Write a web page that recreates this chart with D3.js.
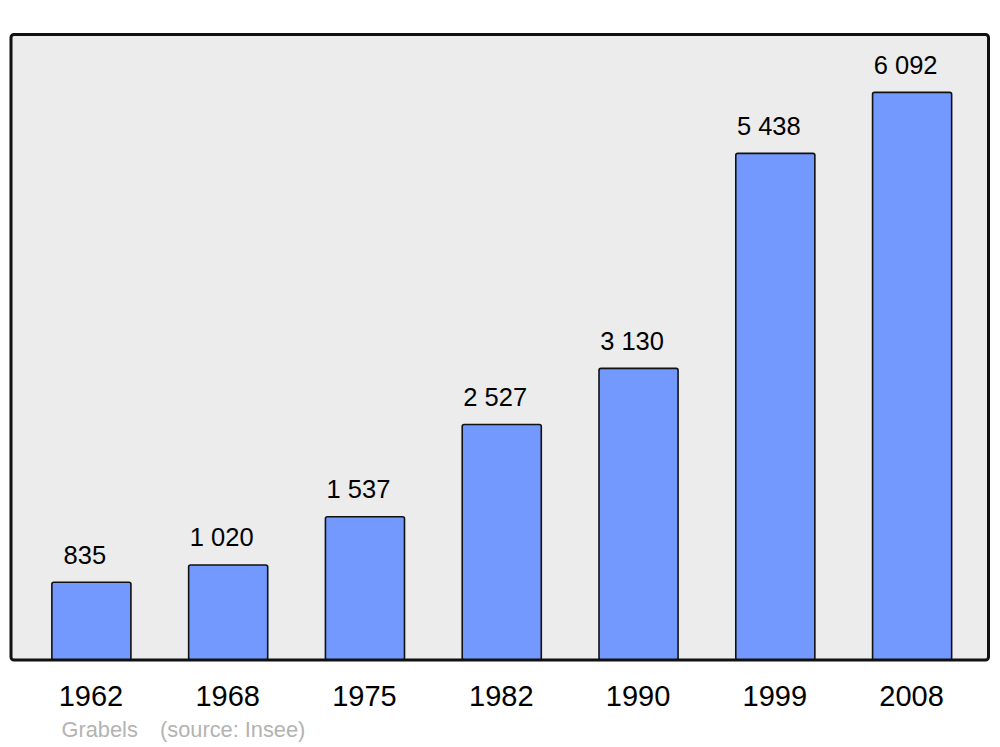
<!DOCTYPE html>
<html>
<head>
<meta charset="utf-8">
<script src="https://cdn.jsdelivr.net/npm/d3@7"></script>
<style>
html,body{margin:0;padding:0;background:#fff;}
svg{display:block;font-family:"Liberation Sans",Arial,sans-serif;}
</style>
</head>
<body>
<svg id="chart" width="1000" height="747"></svg>
<script>
const years = ["1962","1968","1975","1982","1990","1999","2008"];
const population = [835, 1020, 1537, 2527, 3130, 5438, 6092];
const valueLabels = ["835","1 020","1 537","2 527","3 130","5 438","6 092"];
const town = "Grabels";
const source = "(source: Insee)";

const svg = d3.select("#chart");
const panel = {x0: 11, y0: 34.5, x1: 988.5, y1: 660};

const x = d3.scaleBand().domain(years).range([23, 980.5]).paddingInner(0.422).paddingOuter(0.211);
const y = d3.scaleLinear().domain([0, d3.max(population) * 1.102]).range([panel.y1, panel.y0]);

svg.append("rect")
  .attr("x", panel.x0).attr("y", panel.y0)
  .attr("width", panel.x1 - panel.x0).attr("height", panel.y1 - panel.y0)
  .attr("rx", 3).attr("fill", "#ececec");

const data = years.map((yr, i) => ({yr, v: population[i], lab: valueLabels[i]}));

svg.selectAll("rect.bar").data(data).join("rect")
  .attr("class", "bar")
  .attr("x", d => x(d.yr)).attr("y", d => y(d.v))
  .attr("width", x.bandwidth()).attr("height", d => y(0) - y(d.v))
  .attr("rx", 2)
  .attr("fill", "#7399ff").attr("stroke", "#111").attr("stroke-width", 1.6);

svg.selectAll("text.val").data(data).join("text")
  .attr("class", "val")
  .attr("x", d => x(d.yr) + x.bandwidth() / 2 - 6.5)
  .attr("y", d => y(d.v) - 18.7)
  .attr("text-anchor", "middle")
  .attr("font-size", 25.5).attr("fill", "#000")
  .text(d => d.lab);

svg.append("rect")
  .attr("x", panel.x0).attr("y", panel.y0)
  .attr("width", panel.x1 - panel.x0).attr("height", panel.y1 - panel.y0)
  .attr("rx", 3).attr("fill", "none").attr("stroke", "#111").attr("stroke-width", 3);

const xAxis = d3.axisBottom(x).tickSize(0).tickPadding(0);
const gx = svg.append("g").attr("transform", `translate(-0.5,${panel.y1})`).call(xAxis);
gx.select(".domain").remove();
gx.selectAll("text")
  .attr("dy", null).attr("y", 46)
  .attr("font-size", 29).attr("fill", "#000")
  .attr("font-family", "Liberation Sans, Arial, sans-serif");

svg.append("text").attr("x", 61.5).attr("y", 737)
  .attr("font-size", 21.8).attr("fill", "#b3b3b3").text(town);
svg.append("text").attr("x", 160).attr("y", 737)
  .attr("font-size", 21.8).attr("fill", "#b3b3b3").text(source);
</script>
</body>
</html>
